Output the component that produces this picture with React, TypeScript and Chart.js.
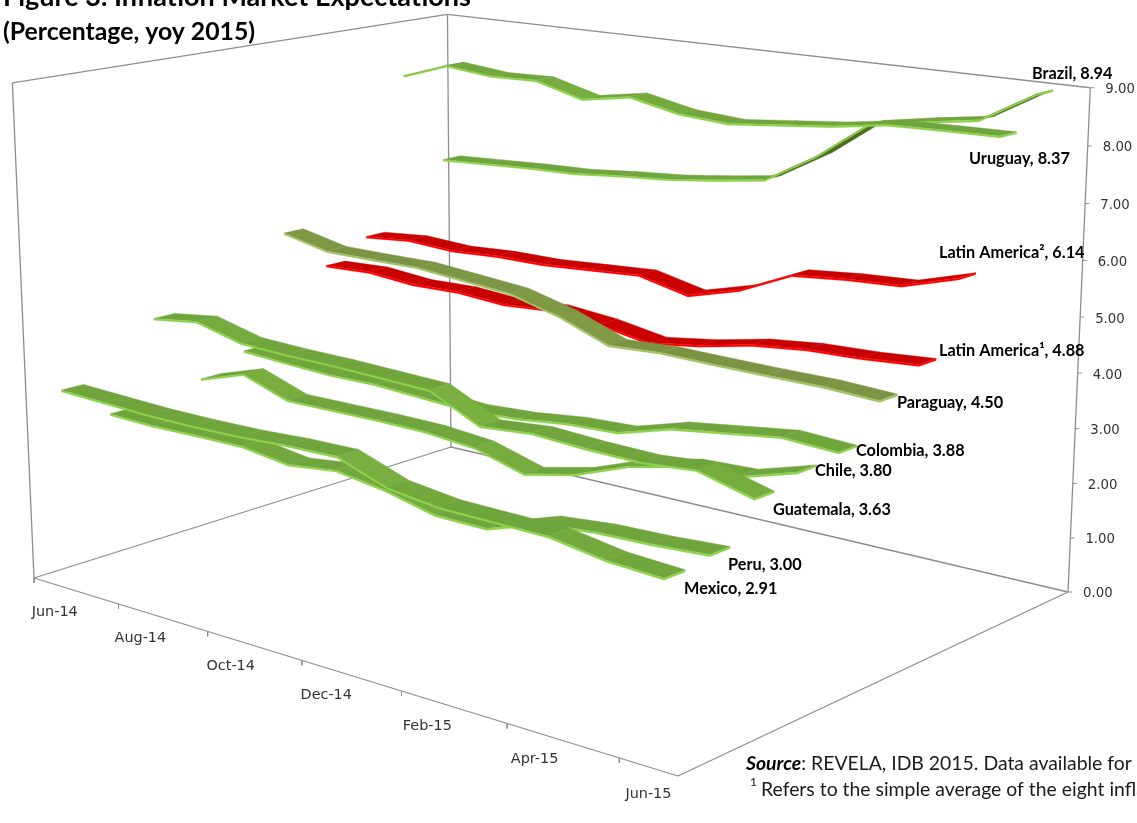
import React, { useEffect, useRef } from "react";
import { Chart, registerables } from "chart.js";

Chart.register(...registerables);

// ---------- data (percent, yoy 2015), front row to back row ----------
const months = ["Jun-14","Jul-14","Aug-14","Sep-14","Oct-14","Nov-14","Dec-14","Jan-15","Feb-15","Mar-15","Apr-15","May-15","Jun-15"];
const mexico = [3.53,3.50,3.47,3.47,3.49,3.54,3.56,3.24,3.13,3.12,3.11,2.96,2.91];
const peru = [2.86,2.84,2.86,2.87,2.75,2.86,2.73,2.52,2.51,2.82,2.91,2.94,3.00];
const guatemala = [4.42,4.54,4.32,4.29,4.28,4.25,4.22,3.79,3.87,3.82,3.80,3.88,3.63];
const chile = [3.06,3.34,3.04,3.05,3.06,3.05,2.97,2.71,2.92,3.27,3.48,3.52,3.80];
const colombia = [3.38,3.33,3.29,3.30,3.25,3.20,3.25,3.36,3.40,3.67,3.80,3.93,3.88];
const paraguay = [5.46,5.27,5.27,5.28,5.20,5.12,4.88,4.53,4.58,4.56,4.55,4.55,4.50];
const latAm1 = [4.64,4.68,4.60,4.62,4.55,4.61,4.52,4.36,4.49,4.68,4.78,4.81,4.88];
const latAm2 = [5.03,5.11,5.06,5.11,5.11,5.17,5.23,5.02,5.28,5.71,5.80,5.85,6.14];
const uruguay = [8.05,8.36,8.27,8.30,8.06,8.22,8.03,7.97,8.07,8.17,8.32,8.35,8.37];
const brazil = [6.23,6.28,6.33,6.36,6.45,6.52,6.64,6.78,7.34,8.05,8.22,8.37,8.94];
const valueTicks = [0,1,2,3,4,5,6,7,8,9];
const timeTickLabels = ["Jun-14","Aug-14","Oct-14","Dec-14","Feb-15","Apr-15","Jun-15"];

const rows = [mexico,peru,guatemala,chile,colombia,paraguay,latAm1,latAm2,uruguay,brazil];
const GREEN = { flat:[112,164,60], steep:[122,176,64], edge:"#8CD24A", under:"#4C6E22" };
const OLIVE = { flat:[122,148,68], steep:[128,155,70], edge:"#A2C267", under:"#55682F" };
const RED = { flat:[200,0,0], steep:[206,0,0], edge:"#FF0000", under:"#8A0000" };
const palette = [GREEN,GREEN,GREEN,GREEN,GREEN,OLIVE,RED,RED,GREEN,GREEN];

const endLabels: [string, number, number][] = [
  ["Brazil, 8.94",1032,74],["Uruguay, 8.37",969,159],["Latin America², 6.14",939,253],
  ["Latin America¹, 4.88",939,351],["Paraguay, 4.50",897,403],["Colombia, 3.88",856,451],
  ["Chile, 3.80",815,471],["Guatemala, 3.63",773,510],["Peru, 3.00",728,565],["Mexico, 2.91",684,589],
];

// ---------- perspective box: the wall corners as seen on the page ----------
const A=[34,578],B=[678,776],C=[1068,592],D=[451,447],Ap=[12,82],Dp=[448,14],Cp=[1090,89];
const RIBBON_FRONT = 0.03, RIBBON_DEPTH = 0.046, THICK = 0.035;

function makeProjection(){
  const [x00,y00]=A,[x10,y10]=B,[x11,y11]=C,[x01,y01]=D;
  const dx1=x10-x11,dx2=x01-x11,sx=x00-x10+x11-x01,dy1=y10-y11,dy2=y01-y11,sy=y00-y10+y11-y01;
  const den=dx1*dy2-dx2*dy1;const g=(sx*dy2-dx2*sy)/den,h=(dx1*sy-sx*dy1)/den;
  const a=x10-x00+g*x10,b=x01-x00+h*x01,c=x00,d=y10-y00+g*y10,e=y01-y00+h*y01,f=y00;
  const floor=(t:number,s:number)=>[a*t+b*s+c,d*t+e*s+f,g*t+h*s+1];
  const eqs:number[][]=[];
  for(const [t,s,p] of [[0,0,Ap],[0,1,Dp],[1,1,Cp]] as any){
    const [X,Y,W]=floor(t,s);
    eqs.push([1,0,-p[0],p[0]*W-X]);eqs.push([0,1,-p[1],p[1]*W-Y]);
  }
  const M=[0,1,2].map(i=>[0,1,2,3].map(j=>eqs.reduce((q,r)=>q+r[i]*r[j],0)));
  for(let i=0;i<3;i++){
    let pv=i;for(let k=i;k<3;k++)if(Math.abs(M[k][i])>Math.abs(M[pv][i]))pv=k;
    [M[i],M[pv]]=[M[pv],M[i]];
    for(let k=0;k<3;k++)if(k!==i){const r=M[k][i]/M[i][i];for(let j=i;j<4;j++)M[k][j]-=r*M[i][j];}
  }
  const V=[M[0][3]/M[0][0],M[1][3]/M[1][1],M[2][3]/M[2][2]];
  return (t:number,s:number,v:number)=>{
    const [X,Y,W]=floor(t,s);const u=v/9;const w=W+V[2]*u;
    return {x:(X+V[0]*u)/w,y:(Y+V[1]*u)/w};
  };
}
const P = makeProjection();
const tOf = (i:number)=>(i+0.5)/months.length;

const poly=(pts:{x:number,y:number}[],color:string,bw=0.4)=>({
  type:"scatter",showLine:true,fill:"shape",data:[...pts,pts[0]],backgroundColor:color,
  borderColor:color,borderWidth:bw,pointRadius:0,tension:0,
});
const stroke=(pts:{x:number,y:number}[],w=1.3,color="#8E8E8E")=>({
  type:"scatter",showLine:true,fill:false,data:pts,borderColor:color,borderWidth:w,pointRadius:0,tension:0,
});
const mix=(a:number[],b:number[],k:number)=>`rgb(${a.map((q,i)=>Math.round(q+(b[i]-q)*k)).join(",")})`;

function buildDatasets(){
  const back:any[]=[];
  // walls and floor
  const c=(t:number,s:number,v:number)=>P(t,s,v);
  back.push(stroke([c(0,0,0),c(0,0,9)]),stroke([c(0,0,9),c(0,1,9)]),stroke([c(0,1,9),c(0,1,0)]),
    stroke([c(0,1,9),c(1,1,9)]),stroke([c(1,1,9),c(1,1,0)]),stroke([c(0,0,0),c(0,1,0)]),
    stroke([c(0,1,0),c(1,1,0)]),stroke([c(0,0,0),c(1,0,0)]),stroke([c(1,0,0),c(1,1,0)]));
  valueTicks.forEach(v=>{const p=P(1,1,v);back.push(stroke([p,{x:p.x+4,y:p.y}],1));});
  for(let i=0;i<=months.length;i+=2){
    const p=P(i/months.length,0,0);
    back.push(stroke([p,{x:p.x,y:p.y+5}],1));
  }
  // ribbons, back row first
  for(let k=rows.length-1;k>=0;k--){
    const vals=rows[k],pal=palette[k];
    const d1=k/rows.length+RIBBON_FRONT,d2=d1+RIBBON_DEPTH;
    for(let i=0;i<vals.length-1;i++){
      const t0=tOf(i),t1=tOf(i+1),v0=vals[i],v1=vals[i+1];
      const a=P(t0,d1,v0),b=P(t1,d1,v1),e=P(t1,d2,v1),f=P(t0,d2,v0);
      const area=(b.x-a.x)*(e.y-a.y)-(b.y-a.y)*(e.x-a.x);
      const drop=Math.max(0,Math.min(1,(v0-v1)/0.35));
      const col=area<0?mix(pal.flat,pal.steep,drop):pal.under;
      back.push(poly([a,b,e,f],col));
      back.push(poly([a,b,P(t1,d1,v1-THICK),P(t0,d1,v0-THICK)],pal.edge,0.2));
    }
    const n=vals.length-1,tn=tOf(n);
    back.push(poly([P(tn,d1,vals[n]),P(tn,d2,vals[n]),P(tn,d2,vals[n]-THICK),P(tn,d1,vals[n]-THICK)],pal.edge,0.2));
  }
  return back.reverse();
}

const textPlugin={
  id:"pageText",
  afterDraw(chart:any){
    const ctx=chart.ctx;
    ctx.save();
    ctx.textBaseline="alphabetic";ctx.textAlign="left";ctx.fillStyle="#000";
    ctx.font="bold 27px Lato";
    ctx.fillText("Figure 3. Inflation Market Expectations",3,6);
    ctx.font="bold 24.8px Lato";
    ctx.fillText("(Percentage, yoy 2015)",3,40);
    ctx.textBaseline="middle";
    ctx.font="bold 16.3px Lato";
    endLabels.forEach(([s,x,y])=>ctx.fillText(s,x,y));
    ctx.fillStyle="#333";
    ctx.font="13.3px 'DejaVu Sans'";
    valueTicks.forEach(v=>{const p=P(1,1,v);ctx.fillText(v.toFixed(2),p.x+15,p.y+2);});
    ctx.font="14.4px 'DejaVu Sans'";
    ctx.textAlign="center";
    timeTickLabels.forEach((s,j)=>{const p=P(tOf(j*2),0,0);ctx.fillText(s,p.x,p.y+27.5);});
    ctx.textAlign="left";ctx.textBaseline="alphabetic";ctx.fillStyle="#000";
    ctx.font="italic bold 19.4px Lato";
    ctx.fillText("Source",746,770);
    const w=ctx.measureText("Source").width;
    ctx.fillStyle="#1a1a1a";
    ctx.font="19.4px Lato";
    ctx.fillText(": REVELA, IDB 2015. Data available for",746+w,770);
    ctx.fillText("Refers to the simple average of the eight inflation",761,796);
    ctx.font="12px Lato";
    ctx.fillText("1",750,786);
    ctx.restore();
  },
};

export default function App(){
  const ref=useRef<HTMLCanvasElement>(null);
  useEffect(()=>{
    const chart=new Chart(ref.current as any,{
      type:"scatter",
      data:{datasets:buildDatasets() as any},
      options:{
        animation:false,responsive:false,devicePixelRatio:1,
        layout:{padding:0},
        events:[],
        plugins:{legend:{display:false},title:{display:false},tooltip:{enabled:false},filler:{drawTime:"beforeDatasetDraw"} as any},
        scales:{
          x:{type:"linear",min:0,max:1137,display:false},
          y:{type:"linear",min:0,max:823,reverse:true,display:false},
        },
      },
      plugins:[textPlugin as any],
    });
    return ()=>chart.destroy();
  },[]);
  return <canvas ref={ref} width={1137} height={823} style={{position:"absolute",left:0,top:0,display:"block"}}/>;
}
